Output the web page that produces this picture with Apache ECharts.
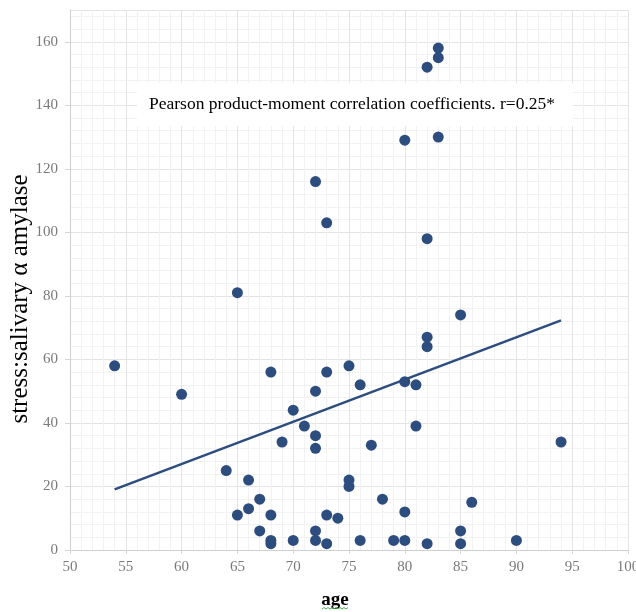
<!DOCTYPE html>
<html>
<head>
<meta charset="utf-8">
<script src="https://cdn.jsdelivr.net/npm/echarts@6/dist/echarts.min.js"></script>
<style>
html,body{margin:0;padding:0;background:#fff;}
#chart{width:636px;height:612px;}
</style>
</head>
<body>
<div id="chart"></div>
<script>
// ---- data ----
var ages = [54,60,64,65,65,66,66,67,67,68,68,68,68,69,70,70,71,72,72,72,72,72,72,73,73,73,73,74,75,75,75,76,76,77,78,79,80,80,80,80,81,81,82,82,82,82,82,83,83,83,85,85,85,86,90,94];
var amylase = [58,49,25,81,11,22,13,16,6,56,11,3,2,34,44,3,39,116,50,36,32,6,3,103,56,11,2,10,58,22,20,52,3,33,16,3,129,53,12,3,52,39,152,98,67,64,2,158,155,130,74,6,2,15,3,34];
var trendX = [54, 94];
var trendY = [19.1, 72.3];
var xTicks = [50,55,60,65,70,75,80,85,90,95,100];
var yTicks = [0,20,40,60,80,100,120,140,160];
var annotation = 'Pearson product-moment correlation coefficients. r=0.25*';
var yTitle = 'stress:salivary \u03b1 amylase';
var xTitle = 'age';

var points = ages.map(function(a, i){ return [a, amylase[i]]; });
var trend = trendX.map(function(x, i){ return [x, trendY[i]]; });

var dotColor = '#2e4d7f';
var labelStyle = {color:'#7a7a7a', fontFamily:'Liberation Serif', fontSize:15};

var chart = echarts.init(document.getElementById('chart'), null, {renderer:'canvas'});
chart.setOption({
  backgroundColor:'#ffffff',
  animation:false,
  grid:{left:70, right:8, top:10, bottom:62, containLabel:false, outerBoundsMode:'none'},
  xAxis:{
    type:'value', min:xTicks[0], max:xTicks[xTicks.length-1], interval:5,
    axisLine:{show:true, lineStyle:{color:'#cfcfcf', width:1}},
    axisTick:{show:true, length:4, lineStyle:{color:'#d6d6d6'}},
    axisLabel:Object.assign({margin:10}, labelStyle),
    splitLine:{show:true, lineStyle:{color:'#e4e4e4', width:1}},
    minorTick:{show:false, splitNumber:5},
    minorSplitLine:{show:true, lineStyle:{color:'#f2f2f2', width:1}}
  },
  yAxis:{
    type:'value', min:0, max:170, interval:20,
    axisLine:{show:true, lineStyle:{color:'#cfcfcf', width:1}},
    axisTick:{show:true, length:5, lineStyle:{color:'#d6d6d6'}},
    axisLabel:Object.assign({margin:12, showMaxLabel:false,
      formatter:function(v){ return yTicks.indexOf(v) >= 0 ? String(v) : ''; }}, labelStyle),
    splitLine:{show:true, lineStyle:{color:'#e4e4e4', width:1}},
    minorTick:{show:false, splitNumber:5},
    minorSplitLine:{show:true, lineStyle:{color:'#f2f2f2', width:1}}
  },
  graphic:[
    {type:'rect', z:1, shape:{x:137, y:83, width:436, height:43}, style:{fill:'#ffffff'}},
    {type:'text', z:3, x:149, y:104, style:{text:annotation, fill:'#000000',
      font:'17.5px "Liberation Serif"', textVerticalAlign:'middle', textAlign:'left'}},
    {type:'text', z:3, x:20, y:299, rotation:Math.PI/2, style:{text:yTitle, fill:'#000000',
      font:'25px "Liberation Serif"', textAlign:'center', textVerticalAlign:'middle'}},
    {type:'text', z:3, x:335, y:600, style:{text:xTitle, fill:'#000000',
      font:'bold 19px "Liberation Serif"', textAlign:'center', textVerticalAlign:'middle'}},
    {type:'polyline', z:3, shape:{points:[[322,609],[324,607.5],[326,609],[328,607.5],[330,609],[332,607.5],[334,609],[336,607.5],[338,609],[340,607.5],[342,609],[344,607.5],[346,609],[348,607.5]]},
      style:{stroke:'#4caf50', lineWidth:1, fill:null}}
  ],
  series:[
    {type:'line', data:trend, showSymbol:false, symbol:'none', z:2,
      lineStyle:{color:dotColor, width:2.5}},
    {type:'scatter', data:points, symbol:'circle', symbolSize:11, z:4,
      itemStyle:{color:dotColor, opacity:1}}
  ]
});
</script>
</body>
</html>
